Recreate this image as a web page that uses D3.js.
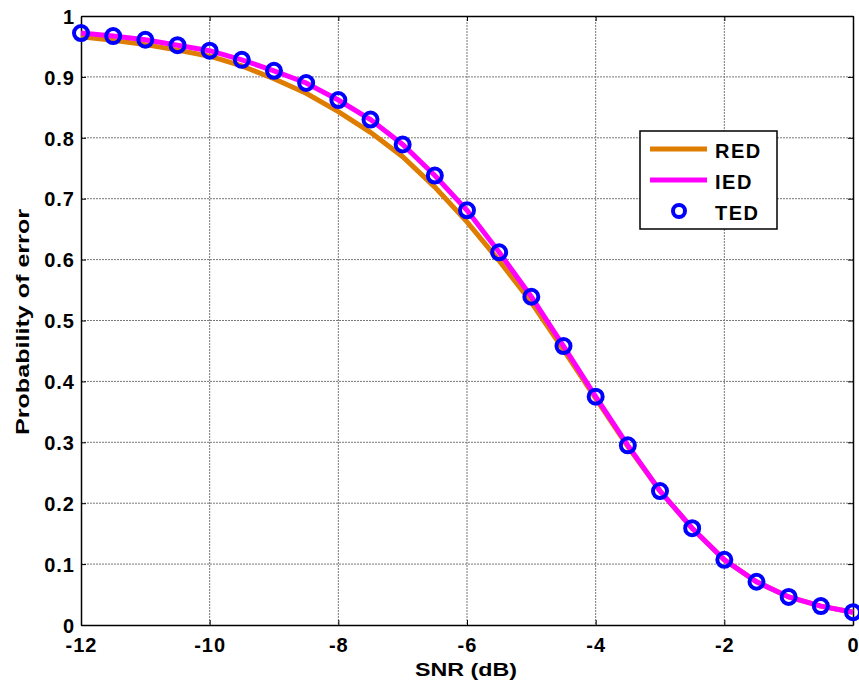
<!DOCTYPE html>
<html>
<head>
<meta charset="utf-8">
<script src="https://cdn.jsdelivr.net/npm/d3@7"></script>
<style>
  body { margin: 0; background: #fff; }
  text { font-family: "Liberation Sans", Arial, sans-serif; font-weight: bold; }
</style>
</head>
<body>
<div id="chart"></div>
<script>
// data
var snr = [-12, -11.5, -11, -10.5, -10, -9.5, -9, -8.5, -8, -7.5, -7, -6.5, -6,
           -5.5, -5, -4.5, -4, -3.5, -3, -2.5, -2, -1.5, -1, -0.5, 0];
var red = [0.966, 0.960, 0.953, 0.944, 0.934, 0.918, 0.897, 0.873, 0.843, 0.809, 0.769, 0.719, 0.662,
           0.598, 0.530, 0.452, 0.372, 0.293, 0.220, 0.159, 0.107, 0.071, 0.046, 0.031, 0.021];
var ied = [0.972, 0.967, 0.961, 0.952, 0.943, 0.928, 0.910, 0.890, 0.862, 0.830, 0.789, 0.738, 0.681,
           0.612, 0.539, 0.458, 0.375, 0.295, 0.220, 0.159, 0.107, 0.071, 0.046, 0.031, 0.021];
var ted = ied.slice();
var xTicks = [-12, -10, -8, -6, -4, -2, 0];
var yTicks = [0, 0.1, 0.2, 0.3, 0.4, 0.5, 0.6, 0.7, 0.8, 0.9, 1];
var names = ["RED", "IED", "TED"];

var W = 859, H = 688;
var m = {left: 81, right: 853, top: 16, bottom: 625};

var svg = d3.select("#chart").append("svg")
  .attr("width", W).attr("height", H);

var x = d3.scaleLinear().domain([-12, 0]).range([m.left, m.right]);
var y = d3.scaleLinear().domain([0, 1]).range([m.bottom, m.top]);

// grid
var grid = svg.append("g");
grid.selectAll("line.gx").data(xTicks.slice(1, -1)).enter().append("line")
  .attr("x1", function(d){ return x(d); }).attr("x2", function(d){ return x(d); })
  .attr("y1", m.top).attr("y2", m.bottom)
  .attr("stroke", "#777").attr("stroke-width", 1).attr("stroke-dasharray", "2,1");
grid.selectAll("line.gy").data(yTicks.slice(1, -1)).enter().append("line")
  .attr("y1", function(d){ return y(d); }).attr("y2", function(d){ return y(d); })
  .attr("x1", m.left).attr("x2", m.right)
  .attr("stroke", "#777").attr("stroke-width", 1).attr("stroke-dasharray", "2,1");

// axes, ticks inside
var xAxis = svg.append("g").attr("transform", "translate(0," + m.bottom + ")")
  .call(d3.axisBottom(x).tickValues(xTicks).tickSizeInner(-5).tickSizeOuter(0)
    .tickFormat(function(d){ return String(d); }));
var yAxis = svg.append("g").attr("transform", "translate(" + m.left + ",0)")
  .call(d3.axisLeft(y).tickValues(yTicks).tickSizeInner(-5).tickSizeOuter(0).tickPadding(6)
    .tickFormat(function(d){ return d === 0 || d === 1 ? String(d) : d3.format(".1f")(d); }));
svg.append("g").attr("transform", "translate(0," + m.top + ")")
  .call(d3.axisTop(x).tickValues(xTicks).tickSizeInner(-5).tickSizeOuter(0).tickFormat(""));
svg.append("g").attr("transform", "translate(" + m.right + ",0)")
  .call(d3.axisRight(y).tickValues(yTicks).tickSizeInner(-5).tickSizeOuter(0).tickFormat(""));
svg.selectAll(".domain").attr("stroke", "#000").attr("stroke-width", 1.5);
svg.selectAll(".tick line").attr("stroke", "#000");
svg.selectAll(".tick text").attr("fill", "#000").style("font-size", "20px")
  .style("letter-spacing", "1px")
  .style("font-family", "'Liberation Sans', Arial, sans-serif").style("font-weight", "bold");
xAxis.selectAll(".tick text").attr("y", 27).attr("dy", 0);
yAxis.selectAll(".tick text").attr("dy", "0.36em");

// lines
var line = function(vals) {
  return d3.line().x(function(d, i){ return x(snr[i]); }).y(function(d){ return y(d); })(vals);
};
svg.append("path").attr("d", line(red)).attr("fill", "none")
  .attr("stroke", "#de7d00").attr("stroke-width", 5);
svg.append("path").attr("d", line(ied)).attr("fill", "none")
  .attr("stroke", "#ff00ff").attr("stroke-width", 5);
svg.selectAll("circle.ted").data(ted).enter().append("circle")
  .attr("cx", function(d, i){ return x(snr[i]); })
  .attr("cy", function(d){ return y(d); })
  .attr("r", 7).attr("fill", "none").attr("stroke", "#0000ff").attr("stroke-width", 4);

// labels
svg.append("text").attr("x", 466).attr("y", 676)
  .attr("text-anchor", "middle").style("font-size", "18px")
  .attr("textLength", 102).attr("lengthAdjust", "spacingAndGlyphs").text("SNR (dB)");
svg.append("text").attr("transform", "translate(29,322) rotate(-90)")
  .attr("text-anchor", "middle").style("font-size", "18px")
  .attr("textLength", 226).attr("lengthAdjust", "spacingAndGlyphs").text("Probability of error");

// legend
var lg = svg.append("g").attr("transform", "translate(640,131)");
lg.append("rect").attr("width", 137).attr("height", 98)
  .attr("fill", "#fff").attr("stroke", "#000").attr("stroke-width", 1.5);
var colors = ["#de7d00", "#ff00ff", "#0000ff"];
names.forEach(function(n, i) {
  var cy = 18 + i * 31;
  if (i < 2) {
    lg.append("line").attr("x1", 10).attr("x2", 67).attr("y1", cy).attr("y2", cy)
      .attr("stroke", colors[i]).attr("stroke-width", 5);
  } else {
    lg.append("circle").attr("cx", 39).attr("cy", cy).attr("r", 6)
      .attr("fill", "none").attr("stroke", colors[i]).attr("stroke-width", 4);
  }
  lg.append("text").attr("x", 75).attr("y", cy + 9).style("font-size", "20px")
    .style("letter-spacing", "1.5px").text(n);
});
</script>
</body>
</html>
